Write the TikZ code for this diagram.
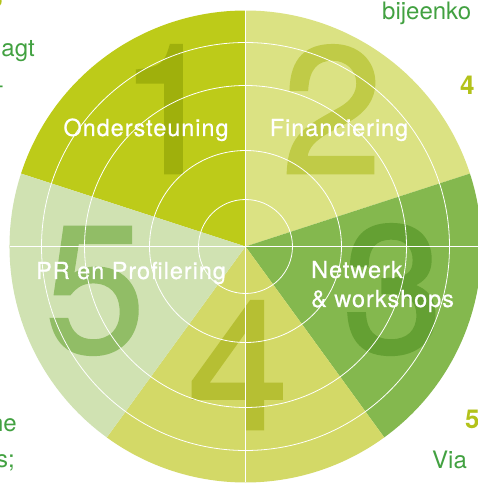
\documentclass[tikz,border=0pt]{standalone}
\usepackage{fontspec}
\setmainfont{TeX Gyre Heros}
\newfontfamily\labfont[LetterSpace=4,FakeBold=0.6]{TeX Gyre Heros}
\newfontfamily\numfont[FakeBold=1.6]{TeX Gyre Heros}
\definecolor{sA}{HTML}{BDCB19}
\definecolor{sB}{HTML}{DBE283}
\definecolor{sC}{HTML}{84B84E}
\definecolor{sD}{HTML}{D3D967}
\definecolor{sE}{HTML}{D0E2B2}
\definecolor{dA}{HTML}{9FB00C}
\definecolor{dB}{HTML}{C0CB47}
\definecolor{dC}{HTML}{64A033}
\definecolor{dD}{HTML}{B6BF33}
\definecolor{dE}{HTML}{91BD66}
\definecolor{txtgreen}{HTML}{42A141}
\definecolor{numyellow}{HTML}{B3C21A}
\tikzset{
  bignum/.style={anchor=base, inner sep=0pt, font=\numfont\fontsize{180}{180}\selectfont},
  seclabel/.style={text=white, inner sep=0pt, font=\labfont\fontsize{23.5}{29}\selectfont},
  margintext/.style={text=txtgreen, inner sep=0pt, font=\fontsize{24}{28}\selectfont},
  marginnum/.style={text=numyellow, inner sep=0pt, font=\bfseries\fontsize{26}{28}\selectfont},
  ring/.style={draw=white, line width=0.8pt},
}
\begin{document}
\begin{tikzpicture}[x=1pt,y=1pt]
\useasboundingbox (0,0) rectangle (478,483);
\clip (0,0) rectangle (478,483);
\coordinate (O) at (245.5,236.5);
% sectors
\fill[sA] (O) -- ++(90:236) arc[start angle=90,end angle=162,radius=236] -- cycle;
\fill[sB] (O) -- ++(18:236) arc[start angle=18,end angle=90,radius=236] -- cycle;
\fill[sC] (O) -- ++(-54:236) arc[start angle=-54,end angle=18,radius=236] -- cycle;
\fill[sD] (O) -- ++(-126:236) arc[start angle=-126,end angle=-54,radius=236] -- cycle;
\fill[sE] (O) -- ++(162:236) arc[start angle=162,end angle=234,radius=236] -- cycle;
% big digits
\node[bignum, text=dA] (n1) at (169,310) {1};
\node[bignum, text=dB] (n2) at (332,310) {2};
\node[bignum, text=dC] (n3) at (393,131) {3};
\node[bignum, text=dD] (n4) at (238,54) {4};
\node[bignum, text=dE] (n5) at (95,131) {5};
% rings and cross
\foreach \r in {47,96,161,204} {\draw[ring] (O) circle[radius=\r];}
\coordinate (L) at (9.5,236.5);
\coordinate (R) at (481.5,236.5);
\coordinate (T) at (245.5,472.5);
\coordinate (B) at (245.5,0.5);
\draw[ring] (L) -- (R);
\draw[ring] (T) -- (B);
% labels
\node[seclabel, anchor=base] (l1) at (146,347) {Ondersteuning};
\node[seclabel, anchor=base] (l2) at (339,347) {Financiering};
\node[seclabel, anchor=base west] (l3a) at (311,205) {Netwerk};
\node[seclabel, anchor=base west] (l3b) at (311,176) {\& workshops};
\node[seclabel, anchor=base] (l5) at (131,204) {PR en Profilering};
% margin texts
\node[margintext, anchor=base east] (m1) at (35,426) {agt};
\node[margintext, anchor=base east] (m2) at (4,389) {-};
\node[marginnum, anchor=base east] (m0) at (3,475) {3};
\node[margintext, anchor=base west] (m3) at (382,463) {bijeenko};
\node[marginnum, anchor=base west] (m4) at (460,388) {4};
\node[margintext, anchor=base east] (m5) at (17,51) {ne};
\node[margintext, anchor=base east] (m6) at (15,16) {s;};
\node[marginnum, anchor=base west] (m7) at (465,55) {5};
\node[margintext, anchor=base west] (m8) at (432,15) {Via};
\end{tikzpicture}
\end{document}
